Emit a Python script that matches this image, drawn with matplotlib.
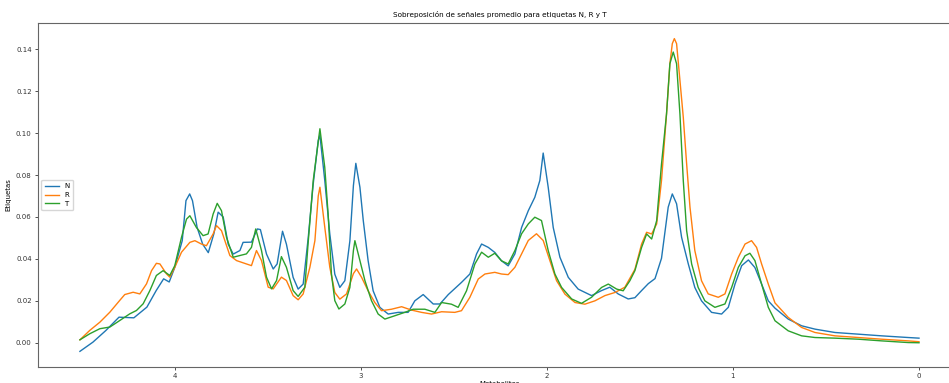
import matplotlib
matplotlib.use("Agg")
import matplotlib.pyplot as plt

# ---- data (ppm, mean intensity) ----
n_ppm = [4.51, 4.44, 4.37, 4.30, 4.22, 4.15, 4.10, 4.06, 4.03, 4.00, 3.96, 3.94, 3.92, 3.905, 3.88, 3.85,
         3.82, 3.79, 3.767, 3.74, 3.713, 3.686, 3.65, 3.633, 3.588, 3.556, 3.54, 3.507, 3.471, 3.45, 3.421,
         3.40, 3.364, 3.337, 3.31, 3.283, 3.256, 3.229, 3.22, 3.194, 3.167, 3.14, 3.113, 3.086, 3.059, 3.04,
         3.027, 3.005, 2.987, 2.961, 2.934, 2.898, 2.853, 2.799, 2.746, 2.71, 2.665, 2.611, 2.575, 2.53,
         2.459, 2.414, 2.378, 2.351, 2.315, 2.28, 2.244, 2.208, 2.172, 2.136, 2.10, 2.065, 2.038, 2.02,
         1.993, 1.966, 1.93, 1.885, 1.832, 1.76, 1.706, 1.662, 1.617, 1.563, 1.527, 1.491, 1.455,
         1.419, 1.384, 1.348, 1.326, 1.303, 1.276, 1.24, 1.205, 1.169, 1.115, 1.061, 1.025, 0.989, 0.953,
         0.917, 0.882, 0.846, 0.81, 0.774, 0.703, 0.631, 0.559, 0.452, 0.326, 0.201, 0.058, 0.0]
n_val = [-0.0041, 0.0003, 0.0059, 0.0122, 0.0119, 0.0170, 0.0249, 0.0305, 0.0290, 0.0360, 0.0487, 0.0678,
         0.0710, 0.0678, 0.0550, 0.0470, 0.0430, 0.0520, 0.0623, 0.0600, 0.0470, 0.0423, 0.0440, 0.0479,
         0.0480, 0.0543, 0.0540, 0.0423, 0.0352, 0.0376, 0.0532, 0.0470, 0.0312, 0.0256, 0.0280, 0.0500,
         0.0758, 0.0965, 0.0990, 0.0775, 0.0520, 0.0327, 0.0264, 0.0296, 0.0486, 0.0750, 0.0856, 0.0742,
         0.0583, 0.0392, 0.0248, 0.0169, 0.0137, 0.0145, 0.0145, 0.0200, 0.0230, 0.0185, 0.0185, 0.0230,
         0.0288, 0.0328, 0.0424, 0.0471, 0.0455, 0.0431, 0.0391, 0.0367, 0.0424, 0.0550, 0.0630, 0.0694,
         0.0774, 0.0905, 0.0742, 0.0550, 0.0408, 0.0312, 0.0256, 0.0225, 0.0249, 0.0265, 0.0233,
         0.0209, 0.0215, 0.0249, 0.0282, 0.0306, 0.0403, 0.0647, 0.0710, 0.0663, 0.0503, 0.0376, 0.0264,
         0.0200, 0.0145, 0.0137, 0.0169, 0.0280, 0.0368, 0.0395, 0.0359, 0.0280, 0.0200, 0.0165, 0.0113,
         0.0081, 0.0065, 0.0049, 0.0041, 0.0033, 0.0025, 0.0022]

r_ppm = [4.51, 4.457, 4.403, 4.349, 4.296, 4.269, 4.224, 4.188, 4.152, 4.125, 4.099, 4.08, 4.045, 4.027,
         4.0, 3.964, 3.919, 3.892, 3.857, 3.83, 3.794, 3.776, 3.749, 3.704, 3.668, 3.615, 3.588, 3.561,
         3.534, 3.498, 3.471, 3.427, 3.40, 3.364, 3.337, 3.31, 3.274, 3.247, 3.229, 3.22, 3.194, 3.167,
         3.14, 3.113, 3.077, 3.04, 3.023, 2.996, 2.961, 2.925, 2.889, 2.835, 2.781, 2.728, 2.674, 2.62,
         2.566, 2.495, 2.459, 2.414, 2.369, 2.333, 2.28, 2.244, 2.208, 2.172, 2.136, 2.10, 2.056, 2.02,
         1.984, 1.948, 1.903, 1.849, 1.796, 1.742, 1.688, 1.634, 1.581, 1.527, 1.491, 1.464, 1.437, 1.41,
         1.384, 1.357, 1.339, 1.326, 1.315, 1.303, 1.285, 1.267, 1.249, 1.231, 1.205, 1.169, 1.133, 1.079,
         1.043, 1.007, 0.971, 0.935, 0.90, 0.873, 0.846, 0.81, 0.774, 0.703, 0.631, 0.559, 0.452, 0.326,
         0.201, 0.058, 0.0]
r_val = [0.0014, 0.0059, 0.0098, 0.0146, 0.0202, 0.0230, 0.0241, 0.0233, 0.0281, 0.0344, 0.0379, 0.0376,
         0.0329, 0.0313, 0.0360, 0.0432, 0.0479, 0.0487, 0.0471, 0.0463, 0.0519, 0.0559, 0.0535, 0.0416,
         0.0392, 0.0376, 0.0368, 0.0440, 0.0392, 0.0265, 0.0257, 0.0313, 0.0297, 0.0225, 0.0205, 0.0233,
         0.0360, 0.0487, 0.0700, 0.0742, 0.0552, 0.0361, 0.0240, 0.0208, 0.0233, 0.0330, 0.0352, 0.0312,
         0.0248, 0.0192, 0.0153, 0.0160, 0.0172, 0.0156, 0.0145, 0.0137, 0.0148, 0.0145, 0.0153, 0.0217,
         0.0304, 0.0328, 0.0336, 0.0328, 0.0325, 0.0360, 0.0424, 0.0488, 0.0520, 0.0488, 0.0392, 0.0296,
         0.0232, 0.0192, 0.0184, 0.0200, 0.0225, 0.0240, 0.0265, 0.0350, 0.0471, 0.0527, 0.0519, 0.0567,
         0.0774, 0.1092, 0.1331, 0.1427, 0.1451, 0.1427, 0.1252, 0.1076, 0.0854, 0.0647, 0.0440, 0.0296,
         0.0233, 0.0217, 0.0233, 0.0328, 0.0408, 0.0471, 0.0487, 0.0455, 0.0376, 0.0280, 0.0190, 0.0121,
         0.0073, 0.0049, 0.0033, 0.0025, 0.0017, 0.0009, 0.0005]

t_ppm = [4.51, 4.457, 4.403, 4.349, 4.296, 4.242, 4.206, 4.17, 4.134, 4.099, 4.063, 4.027, 4.0, 3.964,
         3.937, 3.919, 3.884, 3.848, 3.821, 3.794, 3.772, 3.749, 3.722, 3.686, 3.651, 3.615, 3.588, 3.565,
         3.534, 3.507, 3.48, 3.453, 3.427, 3.40, 3.364, 3.337, 3.301, 3.283, 3.256, 3.22, 3.194, 3.176,
         3.158, 3.14, 3.118, 3.086, 3.059, 3.04, 3.032, 3.005, 2.978, 2.943, 2.907, 2.871, 2.817, 2.764,
         2.719, 2.656, 2.602, 2.566, 2.513, 2.477, 2.432, 2.387, 2.351, 2.315, 2.28, 2.244, 2.208, 2.172,
         2.136, 2.10, 2.065, 2.029, 1.993, 1.957, 1.921, 1.867, 1.814, 1.76, 1.706, 1.67, 1.625, 1.59,
         1.554, 1.527, 1.491, 1.464, 1.437, 1.41, 1.384, 1.357, 1.339, 1.321, 1.303, 1.285, 1.267, 1.249,
         1.222, 1.187, 1.151, 1.097, 1.043, 1.007, 0.971, 0.935, 0.909, 0.882, 0.846, 0.81, 0.774, 0.703,
         0.631, 0.559, 0.452, 0.326, 0.201, 0.058, 0.0]
t_val = [0.0014, 0.0043, 0.0067, 0.0075, 0.0106, 0.0138, 0.0154, 0.0186, 0.0249, 0.0321, 0.0344, 0.0321,
         0.0368, 0.0503, 0.0590, 0.0606, 0.0550, 0.0511, 0.0519, 0.0614, 0.0665, 0.0630, 0.0503, 0.0408,
         0.0416, 0.0424, 0.0455, 0.0543, 0.0440, 0.0313, 0.0257, 0.0297, 0.0411, 0.0360, 0.0249, 0.0221,
         0.0265, 0.0480, 0.0774, 0.1021, 0.0837, 0.0615, 0.0328, 0.0201, 0.0161, 0.0185, 0.0264, 0.0440,
         0.0487, 0.0392, 0.0296, 0.0201, 0.0137, 0.0113, 0.0129, 0.0145, 0.0160, 0.0160, 0.0145, 0.0192,
         0.0184, 0.0169, 0.0248, 0.0376, 0.0432, 0.0408, 0.0427, 0.0391, 0.0376, 0.0440, 0.0520, 0.0567,
         0.0599, 0.0583, 0.0440, 0.0328, 0.0264, 0.0209, 0.0188, 0.0217, 0.0264, 0.0280, 0.0256, 0.0248,
         0.0296, 0.0344, 0.0455, 0.0519, 0.0495, 0.0583, 0.0853, 0.1092, 0.1331, 0.1387, 0.1331, 0.1092,
         0.0774, 0.0535, 0.0376, 0.0264, 0.0200, 0.0169, 0.0185, 0.0264, 0.0360, 0.0415, 0.0427, 0.0392,
         0.0280, 0.0169, 0.0105, 0.0057, 0.0033, 0.0025, 0.0022, 0.0017, 0.0009, 0.0001, 0.0000]

labels = ["N", "R", "T"]
title = "Sobreposición de señales promedio para etiquetas N, R y T"
xlabel = "Metabolitos"
ylabel = "Etiquetas"

fig = plt.figure(figsize=(9.49, 3.83), dpi=100)
ax = fig.add_axes([0.0400, 0.0418, 0.9726, 0.8982])

for xs, ys, lab in zip([n_ppm, r_ppm, t_ppm], [n_val, r_val, t_val], labels):
    ax.plot(xs, ys, label=lab, lw=1.0)

ax.invert_xaxis()
ax.set_yticks([0.0, 0.02, 0.04, 0.06, 0.08, 0.10, 0.12, 0.14])
ax.yaxis.set_major_formatter(matplotlib.ticker.FormatStrFormatter("%.2f"))
ax.set_xticks([4, 3, 2, 1, 0])
ax.tick_params(labelsize=5, length=2.5, width=0.6, pad=2, colors="#333333")
for s in ax.spines.values():
    s.set_linewidth(0.8)
    s.set_color("#666666")

ax.set_title(title, fontsize=5.2, pad=4)
ax.set_xlabel(xlabel, fontsize=5, labelpad=1)
ax.set_ylabel(ylabel, fontsize=5, labelpad=3)
ax.legend(loc="center left", fontsize=5, handlelength=2.0, borderpad=0.5, labelspacing=0.4)

fig.savefig("out.png", dpi=100)
